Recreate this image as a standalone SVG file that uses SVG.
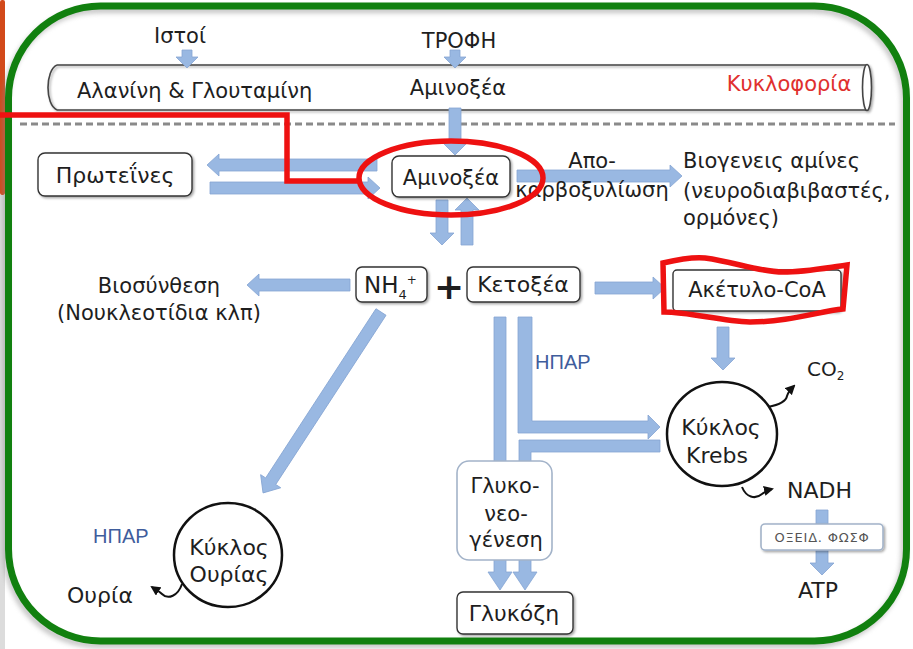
<svg xmlns="http://www.w3.org/2000/svg" width="913" height="649" viewBox="0 0 913 649">
  <style>
    text { font-family: "DejaVu Sans", "Noto Sans", sans-serif; fill: #1e1e1e; }
    .t20 { font-size: 22px; }
    .t18 { font-size: 21px; }
    .mid { text-anchor: middle; }
    .box { fill: #fff; stroke: #333; stroke-width: 1.4; filter: url(#shadow); }
    .pale { fill: #fff; stroke: #a3b3c9; stroke-width: 1.6; }
    .arr { fill: #99b8e2; stroke: #85a5d3; stroke-width: 0.8; }
    .hep { font-family: "Liberation Sans", Arial, sans-serif; font-size: 20px; fill: #3f5d9c; }
    .curl { fill: none; stroke: #111; stroke-width: 2; marker-end: url(#tip); }
    .ring { fill: #fff; stroke: #111; stroke-width: 2.5; }
    .hl { fill: none; stroke: #ee1111; stroke-width: 5.5; }
  </style>
  <defs>
    <filter id="shadow" x="-10%" y="-10%" width="130%" height="140%">
      <feDropShadow dx="1.5" dy="1.5" stdDeviation="1" flood-color="#000" flood-opacity="0.35"/>
    </filter>
    <filter id="soft" x="-5%" y="-5%" width="110%" height="110%">
      <feGaussianBlur stdDeviation="2.5"/>
    </filter>
    <marker id="tip" viewBox="0 0 10 10" refX="8" refY="5" markerWidth="5" markerHeight="5" orient="auto">
      <path d="M0,0 L10,5 L0,10 Z" fill="#111"/>
    </marker>
  </defs>

  <rect width="913" height="649" fill="#fff"/>

  <!-- slide edge on the left -->
  <rect x="0" y="0" width="5" height="195" rx="2" fill="#d2491a"/>
  <rect x="0" y="195" width="5" height="454" fill="#dcdcdc"/>

  <!-- green frame with soft shadow -->
  <rect x="6" y="10" width="898" height="635" rx="92" fill="none" stroke="#888" stroke-width="6" opacity="0.5" filter="url(#soft)"/>
  <rect x="8.5" y="6" width="898" height="635" rx="92" fill="none" stroke="#11800f" stroke-width="7"/>

  <!-- circulation tube -->
  <g id="tube" filter="url(#shadow)">
    <path d="M57,65 H867 M57,110 H867 M57,65 C45,70 45,105 57,110" fill="none" stroke="#444" stroke-width="1.6"/>
    <ellipse cx="867" cy="87.5" rx="4.5" ry="23" fill="#fff" stroke="#444" stroke-width="1.6"/>
  </g>
  <line x1="20" y1="124" x2="895" y2="124" stroke="#8a8a8a" stroke-width="3" stroke-dasharray="7 4"/>

  <!-- connectors -->
  <g id="connectors">
    <!-- into the circulation -->
    <path class="arr" d="M182,50 H192 V57 H198 L187,68 L176,57 H182 Z"/>
    <path class="arr" d="M450,50 H460 V57 H466 L455,68 L444,57 H450 Z"/>
    <!-- circulation to amino acids -->
    <path class="arr" d="M449,108 H461 V143 H467 L455,155 L443,143 H449 Z"/>
    <!-- amino acids <-> proteins -->
    <path class="arr" d="M377,159 H219 V154 L207,165 L219,176 V171 H377 Z"/>
    <path class="arr" d="M210,182 H368 V177 L380,188 L368,199 V194 H210 Z"/>
    <!-- decarboxylation -->
    <path class="arr" d="M517,170 H670 V165 L682,176 L670,187 V182 H517 Z"/>
    <!-- amino acids <-> NH4 / keto acids -->
    <path class="arr" d="M436,200 H448 V233 H454 L442,245 L430,233 H436 Z"/>
    <path class="arr" d="M461,245 H473 V210 H479 L467,198 L455,210 H461 Z"/>
    <!-- NH4 to biosynthesis -->
    <path class="arr" d="M350,279 H259 V274 L247,285 L259,296 V291 H350 Z"/>
    <!-- keto acids to acetyl-CoA -->
    <path class="arr" d="M595,282 H653 V277 L665,288 L653,299 V294 H595 Z"/>
    <!-- NH4 to urea cycle -->
    <path class="arr" transform="translate(381,312) rotate(123.1)" d="M0,-6 H202 V-12 L216,0 L202,12 V6 H0 Z"/>
    <!-- keto acids to glucose -->
    <path class="arr" d="M494,317 H506 V572 H512 L500,590 L488,572 H494 Z"/>
    <!-- keto acids to Krebs (liver) -->
    <path class="arr" d="M518,317 H532 V421 H648 V415 L660,427 L648,439 V433 H518 Z"/>
    <!-- Krebs back to gluconeogenesis and glucose -->
    <path class="arr" d="M660,440 V452 H531 V572 H537 L525,590 L513,572 H519 V440 Z"/>
    <!-- acetyl-CoA to Krebs -->
    <path class="arr" d="M717,327 H729 V358 H735 L723,370 L711,358 H717 Z"/>
    <!-- NADH to ATP -->
    <path class="arr" d="M816,510 H828 V563 H834 L822,575 L810,563 H816 Z"/>
    <!-- curved product arrows -->
    <path class="curl" d="M182,584 C178,596 168,600 162,594 C158,590 155,589 152,587"/>
    <path class="curl" d="M768,407 C778,405 786,402 787,396 C788,392 790,390 794,386"/>
    <path class="curl" d="M742,487 C746,497 755,500 762,494 C766,491 768,490 772,489"/>
  </g>

  <!-- labels on the circulation -->
  <text class="t18 mid" x="180" y="43">Ιστοί</text>
  <text class="t18 mid" x="459" y="48">ΤΡΟΦΗ</text>
  <text class="t18" x="77" y="98">Αλανίνη &amp; Γλουταμίνη</text>
  <text class="t18 mid" x="458" y="95">Αμινοξέα</text>
  <text x="789" y="91" class="mid" style="font-size:21px; fill:#e0302e">Κυκλοφορία</text>

  <g id="proteins">
    <rect class="box" x="38" y="153" width="154" height="43" rx="7"/>
    <text class="t20 mid" x="115" y="183">Πρωτεΐνες</text>
  </g>

  <g id="aminoacids">
    <rect class="box" x="392" y="156" width="118" height="41" rx="7"/>
    <text class="t18 mid" x="451" y="185">Αμινοξέα</text>
  </g>

  <g id="decarboxylation">
    <text class="t18 mid" x="592" y="168">Απο-</text>
    <text class="t18 mid" x="592" y="197">καρβοξυλίωση</text>
  </g>

  <g id="amines">
    <text class="t18" x="683" y="168">Βιογενεις αμίνες</text>
    <text class="t18" x="683" y="198">(νευροδιαβιβαστές,</text>
    <text class="t18" x="683" y="225">ορμόνες)</text>
  </g>

  <g id="biosynthesis">
    <text class="t18 mid" x="159" y="293">Βιοσύνθεση</text>
    <text class="t18 mid" x="159" y="320">(Νουκλεοτίδια κλπ)</text>
  </g>

  <g id="ammonium">
    <rect class="box" x="356" y="267" width="71" height="35" rx="6"/>
    <text x="364" y="293" style="font-size:23px">NH<tspan style="font-size:13px" dy="6">4</tspan><tspan style="font-size:12px" dy="-15">+</tspan></text>
  </g>
  <text x="449" y="299" class="mid" style="font-size:36px; font-weight:bold">+</text>

  <g id="ketoacids">
    <rect class="box" x="467" y="267" width="113" height="35" rx="6"/>
    <text class="t20 mid" x="523" y="292">Κετοξέα</text>
  </g>

  <g id="acetylcoa">
    <rect class="box" x="673" y="270" width="168" height="41" rx="4"/>
    <text class="t18 mid" x="757" y="297">Ακέτυλο-CoA</text>
  </g>

  <text class="hep" x="535" y="369">ΗΠΑΡ</text>
  <text class="hep" x="93" y="543">ΗΠΑΡ</text>

  <g id="krebs">
    <ellipse class="ring" cx="722" cy="434" rx="55" ry="52"/>
    <text class="t20 mid" x="721" y="435">Κύκλος</text>
    <text class="t20 mid" x="717" y="463">Krebs</text>
  </g>

  <g id="co2">
    <text x="807" y="376" style="font-size:20px">CO<tspan style="font-size:12px" dy="4">2</tspan></text>
  </g>
  <text x="787" y="498" style="font-size:22px">NADH</text>

  <g id="oxphos">
    <rect class="pale" x="761" y="524" width="122" height="26" rx="4" style="filter:url(#shadow)"/>
    <text x="822" y="542" class="mid" style="font-size:13px; fill:#555; letter-spacing:0.8px">ΟΞΕΙΔ. ΦΩΣΦ</text>
  </g>
  <text class="t20 mid" x="818" y="598">ATP</text>

  <g id="gluconeogenesis">
    <rect class="pale" x="457" y="461" width="95" height="99" rx="12"/>
    <text class="t18 mid" x="505" y="493">Γλυκο-</text>
    <text class="t18 mid" x="506" y="521">νεο-</text>
    <text class="t18 mid" x="506" y="547">γένεση</text>
  </g>

  <g id="glucose">
    <rect class="box" x="457" y="592" width="116" height="42" rx="6"/>
    <text class="t20 mid" x="514" y="621">Γλυκόζη</text>
  </g>

  <g id="ureacycle">
    <ellipse class="ring" cx="228" cy="555" rx="54" ry="52"/>
    <text class="t20 mid" x="229" y="555">Κύκλος</text>
    <text class="t20 mid" x="229" y="582">Ουρίας</text>
  </g>
  <text class="t20" x="67" y="603">Ουρία</text>

  <!-- highlights -->
  <g id="highlights">
    <ellipse class="hl" cx="451" cy="178" rx="92" ry="37"/>
    <path class="hl" d="M0,115 H287 V181 H361"/>
    <path class="hl" d="M663,263 C680,259 695,257 705,258 C735,262 760,272 783,272 C805,272 825,268 847,265 L843,309 C820,311 790,322 750,322 C720,321 690,312 664,312 Z"/>
  </g>
</svg>
